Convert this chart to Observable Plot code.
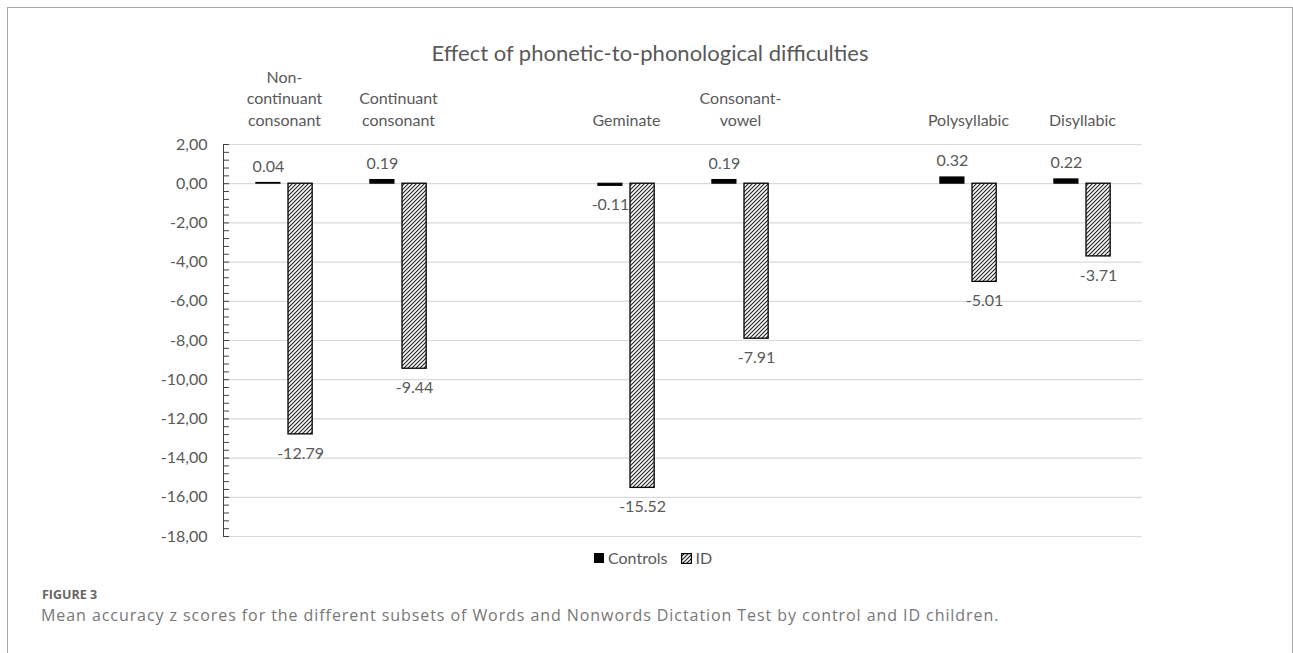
<!DOCTYPE html>
<html><head><meta charset="utf-8">
<script src="https://cdn.jsdelivr.net/npm/d3@7"></script>
<script src="https://cdn.jsdelivr.net/npm/@observablehq/plot@0.6"></script>
<style>
body{margin:0;background:#fff;}
#page{position:relative;width:1293px;height:653px;overflow:hidden;font-family:Lato,sans-serif;}
#box{position:absolute;left:7px;top:7px;width:1284px;height:720px;border:1px solid #a6a6a6;}
#title{position:absolute;left:7px;width:1286px;top:41px;text-align:center;font-size:22px;line-height:24px;color:#595959;}
#chart{position:absolute;left:0;top:64px;}
#legend{position:absolute;top:549px;left:594px;display:flex;align-items:center;font-size:16px;color:#595959;line-height:18px;}
#legend svg{margin-right:3px;}
#fig{position:absolute;left:42px;top:586px;font-family:"Open Sans",sans-serif;font-weight:bold;font-size:12.5px;color:#666;}
#cap{position:absolute;left:41px;top:604px;font-family:"Open Sans",sans-serif;font-size:16px;letter-spacing:0.93px;color:#777;white-space:nowrap;}
</style></head>
<body><div id="page">
<div id="box"></div>
<div id="title">Effect of phonetic-to-phonological difficulties</div>
<div id="chart"></div>
<div id="legend"></div>
<div id="fig">FIGURE 3</div>
<div id="cap">Mean accuracy z scores for the different subsets of Words and Nonwords Dictation Test by control and ID children.</div>
</div>
<script>
// ---- data ----
const categories = ["Non-\ncontinuant\nconsonant", "Continuant\nconsonant", " ", "Geminate", "Consonant-\nvowel", "  ", "Polysyllabic", "Disyllabic"];
const controls = [0.04, 0.19, null, -0.11, 0.19, null, 0.32, 0.22];
const idGroup = [-12.79, -9.44, null, -15.52, -7.91, null, -5.01, -3.71];
const seriesNames = ["Controls", "ID"];
const yTicks = [2, 0, -2, -4, -6, -8, -10, -12, -14, -16, -18];

const rows = categories.map((c, i) => ({cat: c, controls: controls[i], id: idGroup[i]}));
const ctrlRows = rows.filter(d => d.controls != null);
const idRows = rows.filter(d => d.id != null);

const W = 1293, H = 480, ML = 223, MR = 151, MT = 80, MB = 8;
const step = (W - ML - MR) / categories.length;
const barW = step * 0.218;
const inset = (step - barW) / 2;
const off = step * 0.14;
const minorTicks = d3.range(-18, 2.0001, 0.4);
const fmtAxis = d => d.toFixed(2).replace(".", ",");
const fmtLab = v => v.toFixed(2);
const labStyle = {lineAnchor: "middle", fill: "#595959", fontSize: 16};

const svg = Plot.plot({
  width: W, height: H,
  marginLeft: ML, marginRight: MR, marginTop: MT, marginBottom: MB,
  style: {fontFamily: "Lato, sans-serif", fontSize: "16px", color: "#595959", background: "transparent"},
  x: {domain: categories, padding: 0},
  y: {domain: [-18, 2]},
  marks: [
    Plot.gridY(yTicks, {stroke: "#d9d9d9", strokeOpacity: 1, strokeWidth: 1.2}),
    Plot.axisX({anchor: "top", tickSize: 0, tickPadding: 19, lineHeight: 1.34, fontSize: 16, label: null}),
    Plot.axisY(yTicks, {anchor: "left", tickSize: 0, tickPadding: 16, tickFormat: fmtAxis, fontSize: 16, label: null}),
    Plot.axisY(minorTicks, {anchor: "left", tickSize: 6, dx: 6, tickFormat: () => "", stroke: "#404040", label: null}),
    Plot.frame({anchor: "left", stroke: "#404040"}),
    Plot.barY(ctrlRows, {x: "cat", y: "controls", fill: "#000", stroke: "#000", strokeWidth: 1, dx: -off, insetLeft: inset, insetRight: inset}),
    Plot.barY(idRows, {x: "cat", y: "id", fill: "url(#hatch)", stroke: "#000", strokeWidth: 1.3, dx: off, insetLeft: inset, insetRight: inset}),
    Plot.text(ctrlRows.filter(d => d.controls >= 0), {x: "cat", y: "controls", text: d => fmtLab(d.controls), dx: -off, dy: -16.5, ...labStyle}),
    Plot.text(ctrlRows.filter(d => d.controls < 0), {x: "cat", y: "controls", text: d => fmtLab(d.controls), dx: -off, dy: 19, ...labStyle}),
    Plot.text(idRows.filter(d => d.id < 0), {x: "cat", y: "id", text: d => fmtLab(d.id), dx: off, dy: 19, ...labStyle}),
    Plot.text(idRows.filter(d => d.id >= 0), {x: "cat", y: "id", text: d => fmtLab(d.id), dx: off, dy: -16.5, ...labStyle})
  ]
});
d3.select(svg).insert("defs", ":first-child").html(
  '<pattern id="hatch" patternUnits="userSpaceOnUse" width="4" height="4">' +
  '<rect width="4" height="4" fill="#fff"/>' +
  '<path d="M-1,1 l2,-2 M0,4 l4,-4 M3,5 l2,-2" stroke="#1a1a1a" stroke-width="1.1"/></pattern>');
document.getElementById("chart").appendChild(svg);

// legend
const leg = d3.select("#legend");
seriesNames.forEach((name, i) => {
  const s = leg.append("svg").attr("width", 11).attr("height", 11);
  if (i === 0) s.append("rect").attr("x", 0).attr("y", 0).attr("width", 10).attr("height", 10).attr("fill", "#000");
  else s.append("rect").attr("x", 0.6).attr("y", 0.6).attr("width", 9.8).attr("height", 9.8).attr("fill", "url(#hatch)").attr("stroke", "#000").attr("stroke-width", 1.2);
  leg.append("span").text(name).style("margin-right", i === 0 ? "14px" : "0");
});
</script>
</body></html>
